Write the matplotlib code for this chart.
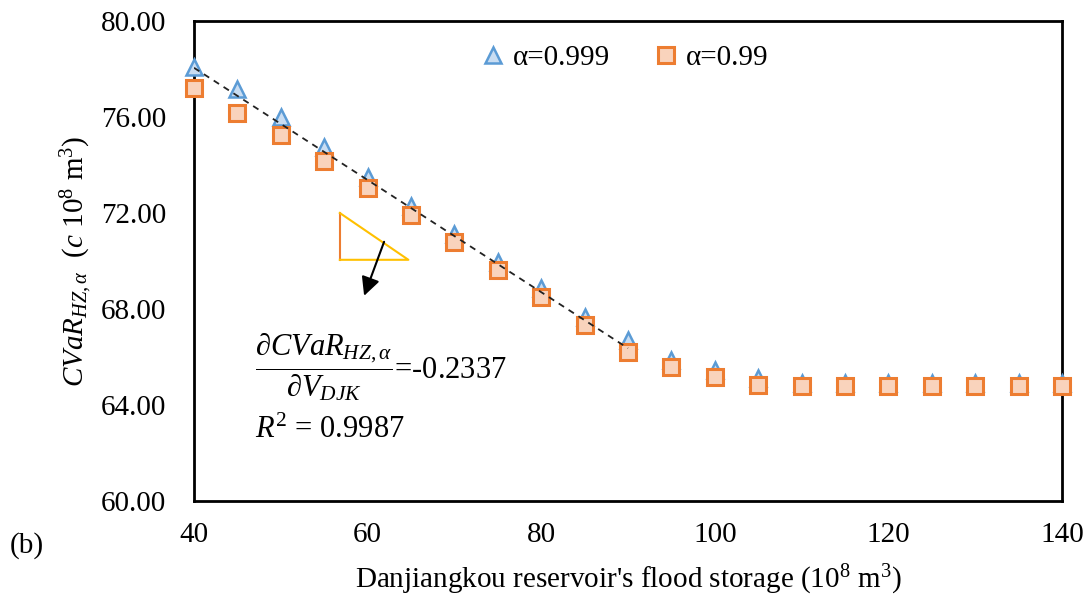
import numpy as np
import matplotlib
matplotlib.use('Agg')
import matplotlib.pyplot as plt
from matplotlib import rcParams

rcParams['font.family'] = ['Liberation Serif', 'DejaVu Serif']
rcParams['mathtext.fontset'] = 'custom'
rcParams['mathtext.rm'] = 'Liberation Serif'
rcParams['mathtext.it'] = 'Liberation Serif:italic'
rcParams['mathtext.bf'] = 'Liberation Serif:bold'

# データ
storage = [40, 45, 50, 55, 60, 65, 70, 75, 80, 85, 90, 95, 100, 105, 110, 115, 120, 125, 130, 135, 140]
cvar_999 = [78.08, 77.17, 75.98, 74.77, 73.50, 72.30, 71.12, 69.96, 68.88, 67.67, 66.71,
            65.88, 65.46, 65.13, 64.92, 64.92, 64.92, 64.92, 64.92, 64.92, 64.92]
cvar_99 = [77.21, 76.17, 75.23, 74.17, 73.04, 71.92, 70.79, 69.63, 68.50, 67.33, 66.21,
           65.58, 65.17, 64.83, 64.79, 64.79, 64.79, 64.79, 64.79, 64.79, 64.79]
legend_labels = ['α=0.999', 'α=0.99']
x_ticks = [40, 60, 80, 100, 120, 140]
y_ticks = [60, 64, 68, 72, 76, 80]

# 回帰直線 (40-90)
trend_range = [40, 90]
trend_slope = -0.2337
trend_start = 78.05

# 勾配の三角形と矢印
tri_x = [56.8, 56.8, 64.7]
tri_y = [72.0, 70.05, 70.05]
arrow_from = (61.9, 70.8)
arrow_to = (59.6, 68.55)

fig = plt.figure(figsize=(10.92, 6.03), dpi=100)
ax = fig.add_axes([194/1092, 1-501/603, (1062-194)/1092, (501-21)/603])

tx = np.array(trend_range)
ax.plot(tx, trend_start + trend_slope*(tx-trend_range[0]), ls=(0, (3.5, 3)), color='#222222', lw=1.3, zorder=4)

p1 = ax.plot(storage, cvar_999, ls='none', marker='^', markersize=12, markeredgewidth=1.8,
             markeredgecolor='#5B9BD5', markerfacecolor='#C9DDF2', zorder=3, clip_on=False)
p2 = ax.plot(storage, cvar_99, ls='none', marker='s', markersize=12, markeredgewidth=2.2,
             markeredgecolor='#ED7D31', markerfacecolor='#F9D3BC', zorder=3, clip_on=False)

# 三角形
ax.plot(tri_x[:2], tri_y[:2], color='#ED7D31', lw=1.5)
ax.plot([tri_x[1], tri_x[2], tri_x[0]], [tri_y[1], tri_y[2], tri_y[0]], color='#FFC000', lw=1.5)
ax.annotate('', xy=arrow_to, xytext=arrow_from,
            arrowprops=dict(arrowstyle='-|>', color='black', lw=1.5, mutation_scale=28,
                            shrinkA=0, shrinkB=0))

ax.text(47.0, 65.6, r'$\dfrac{\partial CVaR_{HZ,\alpha}}{\partial V_{DJK}}$=-0.2337',
        fontsize=22, va='center', ha='left')
ax.text(47.0, 62.95, r'$R^2$ = 0.9987', fontsize=22, va='center', ha='left')

ax.set_xlim(40, 140)
ax.set_ylim(60, 80)
ax.set_xticks(x_ticks)
ax.set_yticks(y_ticks)
ax.set_yticklabels(['%.2f' % v for v in y_ticks])
ax.tick_params(length=0, labelsize=21)
ax.tick_params(axis='x', pad=15)
ax.tick_params(axis='y', pad=20)
for s in ax.spines.values():
    s.set_linewidth(2.0)

ax.set_xlabel("Danjiangkou reservoir's flood storage (10$^{8}$ m$^{3}$)", fontsize=21, labelpad=11)
ax.set_ylabel(r'$CVaR_{HZ,\alpha}$  ($c$ 10$^{8}$ m$^{3}$)', fontsize=21, labelpad=4)
fig.text(10/1092, 1-546/603, '(b)', fontsize=21, va='center', ha='left')

ax.legend((p1[0], p2[0]), legend_labels, loc='center', bbox_to_anchor=(625/1092, 1-58/603),
          bbox_transform=fig.transFigure, ncol=2, frameon=False, fontsize=21,
          handlelength=0.8, handletextpad=0.3, columnspacing=1.5, numpoints=1)

fig.savefig('out.png', dpi=100)
plt.close()
